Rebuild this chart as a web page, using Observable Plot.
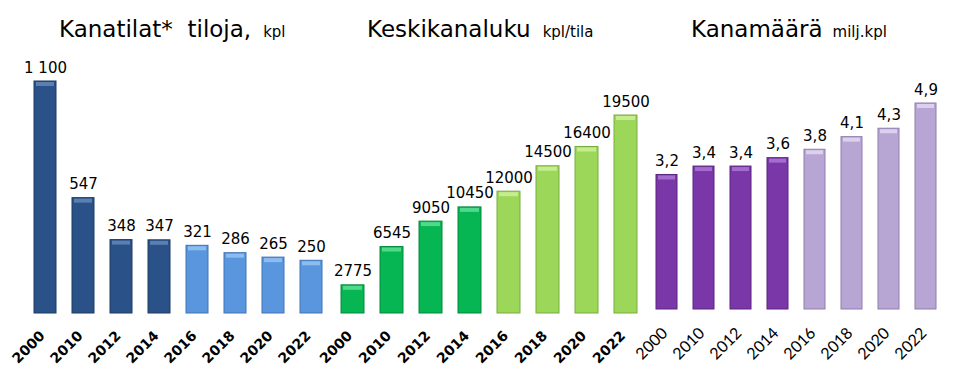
<!DOCTYPE html>
<html><head><meta charset="utf-8">
<script src="https://cdn.jsdelivr.net/npm/d3@7"></script>
<script src="https://cdn.jsdelivr.net/npm/@observablehq/plot@0.6"></script>
<style>
html,body{margin:0;padding:0;background:#fff;}
#chart{position:relative;width:963px;height:376px;overflow:hidden;font-family:"DejaVu Sans",Verdana,sans-serif;background:#fff;}
#chart svg{position:absolute;left:0;top:0;}
.title{position:absolute;font-size:23px;line-height:23px;white-space:pre;color:#000;}
.title span{font-size:15px;}
</style></head><body>
<div id="chart">
  <div class="title" style="left:59px;top:18px">Kanatilat*  tiloja,<span style="margin-left:12px">kpl</span></div>
  <div class="title" style="left:367px;top:18px">Keskikanaluku<span style="margin-left:12px">kpl/tila</span></div>
  <div class="title" style="left:691px;top:18px">Kanamäärä<span style="margin-left:10px">milj.kpl</span></div>
</div>
<script>
// ---- data ----
const years = ["2000","2010","2012","2014","2016","2018","2020","2022"];
const farms = [1100, 547, 348, 347, 321, 286, 265, 250];
const farmLabels = ["1 100","547","348","347","321","286","265","250"];
const avgSize = [2775, 6545, 9050, 10450, 12000, 14500, 16400, 19500];
const avgSizeLabels = ["2775","6545","9050","10450","12000","14500","16400","19500"];
const hens = [3.2, 3.4, 3.4, 3.6, 3.8, 4.1, 4.3, 4.9];
const henLabels = ["3,2","3,4","3,4","3,6","3,8","4,1","4,3","4,9"];

// ---- styles ----
const PAL = {
  blue:   {fill:["#2a5288","#5a96dd"], edge:["#1c3a63","#3f74b5"], hi:["#5a7fb0","#8cbcf0"]},
  green:  {fill:["#05b652","#9cd75a"], edge:["#048a3d","#78ad3e"], hi:["#4fd98a","#c6ec8f"]},
  purple: {fill:["#7a37a8","#b7a6d3"], edge:["#5a2580","#8f7fae"], hi:["#a46ccc","#ddd0ee"]}
};

function panel({values, labels, pal, mLeft, mRight, mTop, mBottom, tickFont, tickWeight, tickSizeFont, tickPad, tickDx}) {
  const data = years.map((y, i) => ({year: y, value: values[i], label: labels[i], phase: i < 4 ? 0 : 1}));
  return Plot.plot({
    width: 963, height: 376,
    marginLeft: mLeft, marginRight: mRight, marginTop: mTop, marginBottom: mBottom,
    style: {background: "transparent", fontFamily: "'DejaVu Sans', Verdana, sans-serif", overflow: "visible"},
    x: {domain: years, padding: 0.42, label: null, axis: null},
    y: {domain: [0, d3.max(values)], axis: null},
    marks: [
      Plot.barY(data, {x: "year", y: "value", fill: d => pal.fill[d.phase], stroke: d => pal.edge[d.phase], strokeWidth: 1}),
      Plot.tickY(data, {x: "year", y: "value", stroke: d => pal.hi[d.phase], strokeWidth: 4, dy: 2.5, insetLeft: 2, insetRight: 2}),
      Plot.text(data, {x: "year", y: "value", text: "label", dy: -9, lineAnchor: "bottom", fontSize: 15, fill: "#000"}),
      Plot.axisX({tickRotate: -45, tickSize: 0, tickPadding: tickPad, dx: tickDx, fontSize: tickSizeFont, fontWeight: tickWeight, fontFamily: tickFont, fill: "#000", label: null})
    ]
  });
}

const chart = document.getElementById("chart");
chart.appendChild(panel({values: farms, labels: farmLabels, pal: PAL.blue,
  mLeft: 14.45, mRight: 621.9, mTop: 81, mBottom: 63,
  tickFont: "'DejaVu Sans', Verdana, sans-serif", tickWeight: "bold", tickSizeFont: 14, tickPad: 20, tickDx: -3}));
chart.appendChild(panel({values: avgSize, labels: avgSizeLabels, pal: PAL.green,
  mLeft: 322.95, mRight: 307.5, mTop: 115, mBottom: 63,
  tickFont: "'DejaVu Sans', Verdana, sans-serif", tickWeight: "bold", tickSizeFont: 14, tickPad: 20, tickDx: -3}));
chart.appendChild(panel({values: hens, labels: henLabels, pal: PAL.purple,
  mLeft: 637.1, mRight: 7.1, mTop: 103, mBottom: 67,
  tickFont: "Lato, sans-serif", tickWeight: "normal", tickSizeFont: 16, tickPad: 21, tickDx: -2}));
</script>
</body></html>
